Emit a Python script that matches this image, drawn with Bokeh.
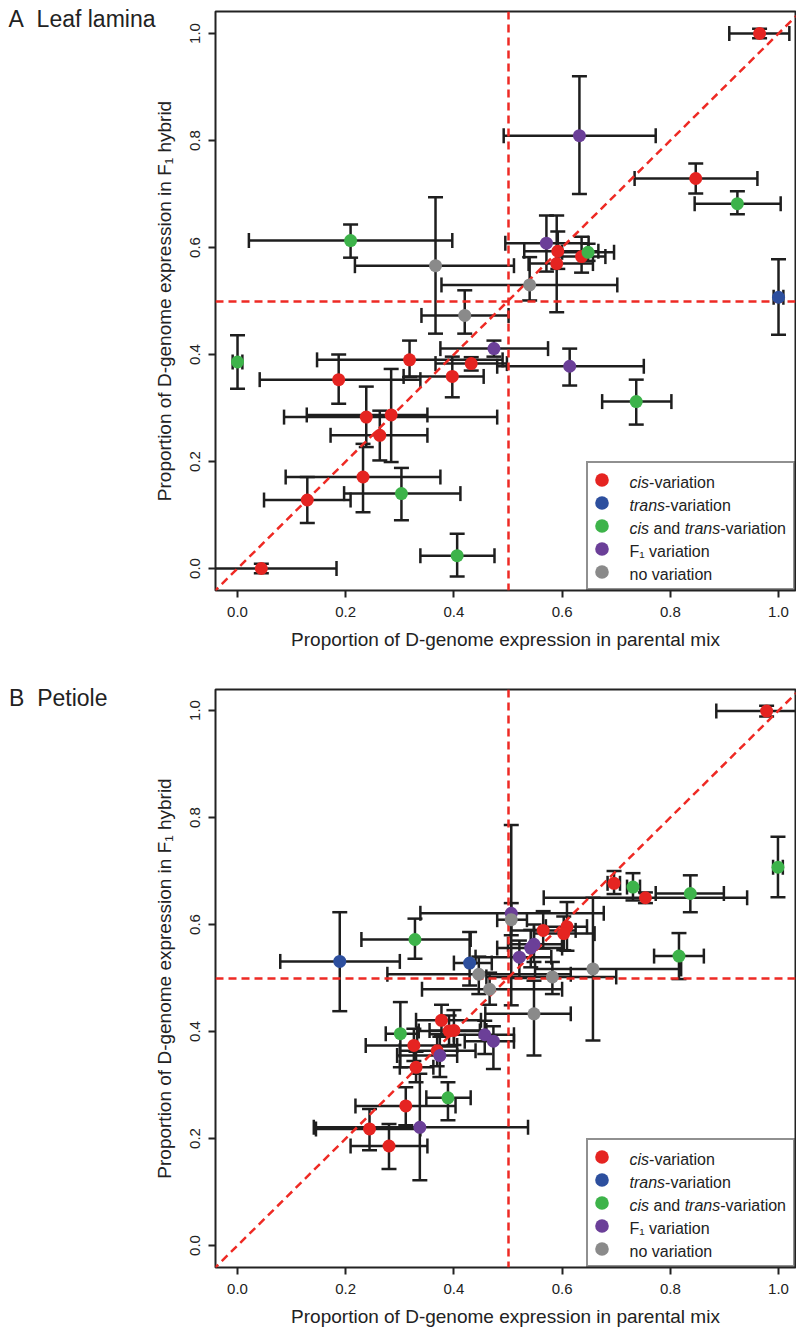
from math import pi
from bokeh.plotting import figure
from bokeh.layouts import column
from bokeh.models import (ColumnDataSource, Range1d, FixedTicker, Legend, LegendItem, Label,
                          LinearAxis)
from bokeh.embed import file_html
from bokeh.resources import INLINE

# ---------------- data ----------------
categories = ["cis", "trans", "cis_trans", "F1", "none"]
cat_colors = ["#e52421", "#2d4f9e", "#3db34a", "#6b3f98", "#8a8a8a"]
legend_parts = [
    [("cis", "italic"), ("-variation", "normal")],
    [("trans", "italic"), ("-variation", "normal")],
    [("cis", "italic"), (" and ", "normal"), ("trans", "italic"), ("-variation", "normal")],
    [("F\u2081 variation", "normal")],
    [("no variation", "normal")],
]
tick_values = [0.0, 0.2, 0.4, 0.6, 0.8, 1.0]
tick_labels = ["0.0", "0.2", "0.4", "0.6", "0.8", "1.0"]
x_title = "Proportion of D-genome expression in parental mix"
y_title = "Proportion of D-genome expression in F\u2081 hybrid"
panel_titles = ["A\u00a0\u00a0Leaf lamina", "B\u00a0\u00a0Petiole"]
ref_value = 0.5
diag = [-0.2, 1.2]

# Panel A (leaf lamina)
a_cat = ["cis"] * 15 + ["trans"] + ["cis_trans"] * 7 + ["F1"] * 4 + ["none"] * 3
a_x = [0.965, 0.847, 0.592, 0.590, 0.636, 0.318, 0.432, 0.397, 0.187, 0.284, 0.238, 0.263, 0.232, 0.129, 0.044,
       1.000,
       0.924, 0.209, 0.648, 0.000, 0.737, 0.303, 0.406,
       0.632, 0.571, 0.474, 0.614,
       0.366, 0.540, 0.420]
a_y = [1.000, 0.729, 0.593, 0.570, 0.583, 0.390, 0.383, 0.359, 0.353, 0.287, 0.283, 0.249, 0.171, 0.128, 0.000,
       0.507,
       0.682, 0.613, 0.591, 0.386, 0.312, 0.140, 0.024,
       0.809, 0.608, 0.411, 0.378,
       0.566, 0.530, 0.473]
a_xlo = [0.909, 0.734, 0.530, 0.538, 0.590, 0.147, 0.366, 0.307, 0.041, 0.128, 0.086, 0.172, 0.089, 0.049, -0.095,
         0.991,
         0.845, 0.021, 0.600, -0.009, 0.674, 0.197, 0.338,
         0.492, 0.495, 0.375, 0.480,
         0.217, 0.377, 0.340]
a_xhi = [1.020, 0.961, 0.667, 0.657, 0.680, 0.490, 0.498, 0.455, 0.338, 0.351, 0.480, 0.351, 0.375, 0.209, 0.183,
         1.009,
         1.004, 0.397, 0.696, 0.009, 0.802, 0.412, 0.475,
         0.773, 0.649, 0.574, 0.751,
         0.511, 0.702, 0.501]
a_ylo = [0.991, 0.701, 0.560, 0.479, 0.553, 0.358, 0.370, 0.320, 0.308, 0.199, 0.227, 0.202, 0.105, 0.085, -0.009,
         0.437,
         0.662, 0.581, 0.575, 0.336, 0.269, 0.090, -0.015,
         0.700, 0.555, 0.396, 0.342,
         0.439, 0.501, 0.439]
a_yhi = [1.009, 0.757, 0.630, 0.660, 0.620, 0.426, 0.395, 0.396, 0.400, 0.373, 0.340, 0.295, 0.233, 0.171, 0.009,
         0.578,
         0.705, 0.643, 0.607, 0.436, 0.353, 0.188, 0.065,
         0.920, 0.660, 0.426, 0.411,
         0.694, 0.582, 0.520]

# Panel B (petiole)
b_cat = ["cis"] * 15 + ["trans"] * 2 + ["cis_trans"] * 7 + ["F1"] * 8 + ["none"] * 6
b_x = [0.978, 0.696, 0.754, 0.565, 0.609, 0.603, 0.377, 0.391, 0.400, 0.326, 0.369, 0.330, 0.311, 0.244, 0.280,
       0.189, 0.429,
       0.999, 0.731, 0.837, 0.816, 0.328, 0.301, 0.389,
       0.506, 0.548, 0.542, 0.521, 0.457, 0.473, 0.374, 0.337,
       0.506, 0.446, 0.466, 0.582, 0.657, 0.548]
b_y = [0.999, 0.677, 0.650, 0.589, 0.596, 0.583, 0.421, 0.401, 0.402, 0.374, 0.364, 0.333, 0.261, 0.218, 0.186,
       0.531, 0.528,
       0.707, 0.670, 0.658, 0.541, 0.572, 0.396, 0.276,
       0.621, 0.563, 0.556, 0.539, 0.394, 0.382, 0.355, 0.221,
       0.609, 0.507, 0.479, 0.502, 0.517, 0.433]
b_xlo = [0.885, 0.684, 0.566, 0.505, 0.570, 0.548, 0.330, 0.335, 0.355, 0.237, 0.300, 0.300, 0.218, 0.145, 0.209,
         0.079, 0.400,
         0.990, 0.720, 0.773, 0.770, 0.229, 0.274, 0.349,
         0.338, 0.500, 0.480, 0.440, 0.400, 0.420, 0.295, 0.141,
         0.480, 0.277, 0.341, 0.460, 0.550, 0.458]
b_xhi = [1.070, 0.707, 0.942, 0.625, 0.646, 0.660, 0.450, 0.448, 0.460, 0.406, 0.440, 0.362, 0.403, 0.338, 0.351,
         0.300, 0.470,
         1.008, 0.744, 0.899, 0.862, 0.431, 0.332, 0.431,
         0.677, 0.600, 0.600, 0.580, 0.511, 0.511, 0.406, 0.537,
         0.535, 0.616, 0.600, 0.700, 0.820, 0.616]
b_ylo = [0.989, 0.657, 0.640, 0.555, 0.551, 0.552, 0.392, 0.372, 0.375, 0.345, 0.335, 0.305, 0.225, 0.178, 0.143,
         0.438, 0.486,
         0.651, 0.645, 0.623, 0.498, 0.536, 0.333, 0.234,
         0.449, 0.530, 0.520, 0.500, 0.358, 0.330, 0.315, 0.122,
         0.580, 0.470, 0.450, 0.470, 0.383, 0.355]
b_yhi = [1.009, 0.700, 0.660, 0.625, 0.642, 0.615, 0.450, 0.430, 0.440, 0.405, 0.395, 0.362, 0.296, 0.255, 0.227,
         0.623, 0.586,
         0.764, 0.696, 0.692, 0.584, 0.611, 0.455, 0.305,
         0.786, 0.600, 0.590, 0.570, 0.420, 0.410, 0.390, 0.321,
         0.640, 0.540, 0.510, 0.530, 0.650, 0.495]

# ---------------- style ----------------
FONT = "Liberation Sans"
INK = "#222222"
DASH_RED = "#ee2a24"
BAR = "#1e1e1e"
LEG_FS = 16
# Arial advance widths (1/1000 em) for the legend spans
ADV = {"c": 500, "i": 222, "s": 500, "t": 278, "r": 333, "a": 556, "n": 556, "d": 556, " ": 278}


def span_width(txt, fs):
    return sum(ADV.get(ch, 556) for ch in txt) * fs / 1000.0


def make_panel(title, title_standoff, cat, xs, ys, xlo, xhi, ylo, yhi,
               border_top, frame_h, border_bottom, y_start, y_end, title_y):
    p = figure(frame_width=580, frame_height=frame_h,
               x_range=Range1d(-0.0407, 1.0314), y_range=Range1d(y_start, y_end),
               output_backend="svg", toolbar_location=None,
               min_border_left=215, min_border_right=1,
               min_border_top=border_top, min_border_bottom=border_bottom)
    p.background_fill_color = "white"
    p.border_fill_color = "white"
    p.outline_line_color = INK
    p.outline_line_width = 2
    p.xgrid.visible = False
    p.ygrid.visible = False

    for ax in (p.xaxis[0], p.yaxis[0]):
        ax.ticker = FixedTicker(ticks=tick_values)
        ax.major_label_overrides = dict(zip(tick_values, tick_labels))
        ax.minor_tick_line_color = None
        ax.major_tick_in = 0
        ax.major_tick_out = 7
        ax.major_tick_line_width = 2
        ax.major_tick_line_color = INK
        ax.axis_line_color = None
        ax.major_label_text_font = FONT
        ax.major_label_text_font_size = "15px"
        ax.major_label_text_color = INK
        ax.axis_label_text_font = FONT
        ax.axis_label_text_font_size = "19px"
        ax.axis_label_text_font_style = "normal"
        ax.axis_label_text_color = INK
    p.xaxis.axis_label = x_title
    p.yaxis.axis_label = y_title
    p.xaxis.major_label_standoff = 9
    p.yaxis.major_label_standoff = 8
    p.xaxis.axis_label_standoff = 9
    p.yaxis.axis_label_standoff = 13
    p.yaxis.major_label_orientation = "vertical"

    # panel title drawn as the single tick label of an outer, bare left axis
    tax = LinearAxis(ticker=FixedTicker(ticks=[title_y]),
                     major_label_overrides={title_y: title},
                     axis_line_color=None, major_tick_line_color=None,
                     minor_tick_line_color=None, major_tick_in=0, major_tick_out=0,
                     major_label_standoff=title_standoff, major_label_text_font=FONT,
                     major_label_text_font_size="23px", major_label_text_color=INK)
    p.add_layout(tax, "left")

    src = ColumnDataSource(dict(x=xs, y=ys, xlo=xlo, xhi=xhi, ylo=ylo, yhi=yhi))
    # error bars
    p.segment(x0="xlo", y0="y", x1="xhi", y1="y", source=src, line_color=BAR, line_width=2.5)
    p.segment(x0="x", y0="ylo", x1="x", y1="yhi", source=src, line_color=BAR, line_width=2.5)
    for col in ("xlo", "xhi"):
        p.scatter(x=col, y="y", source=src, marker="dash", angle=pi / 2, size=15,
                  line_color=BAR, line_width=2.5)
    for col in ("ylo", "yhi"):
        p.scatter(x="x", y=col, source=src, marker="dash", size=15,
                  line_color=BAR, line_width=2.5)

    # reference lines
    p.vspan(x=[ref_value], line_color=DASH_RED, line_width=2.5, line_dash="8 5")
    p.hspan(y=[ref_value], line_color=DASH_RED, line_width=2.5, line_dash="8 5")
    p.line(diag, diag, line_color=DASH_RED, line_width=2.5, line_dash="8 5")

    # points by category
    items = []
    for c, colr in zip(categories, cat_colors):
        idx = [i for i, k in enumerate(cat) if k == c]
        s = ColumnDataSource(dict(x=[xs[i] for i in idx], y=[ys[i] for i in idx]))
        r = p.ellipse("x", "y", source=s, width=13, height=13,
                      width_units="screen", height_units="screen",
                      fill_color=colr, line_color=None)
        items.append(LegendItem(label=" ", renderers=[r]))

    leg = Legend(items=items, location="bottom_right", margin=0, padding=5, spacing=0,
                 glyph_width=17, glyph_height=23, label_height=23, label_standoff=17,
                 label_width=161, border_line_color=INK, border_line_width=2,
                 background_fill_alpha=0.0, label_text_font_size="1px")
    p.add_layout(leg)

    # legend texts with mixed styles
    leg_h = 2 * 5 + 5 * 23
    for i, parts in enumerate(legend_parts):
        ypos = leg_h - 16.5 - 23 * i
        xpos = 414.0
        for txt, style in parts:
            stripped = txt.strip()
            lead = span_width(txt[:len(txt) - len(txt.lstrip())], LEG_FS)
            p.add_layout(Label(x=xpos + lead, y=ypos, x_units="screen", y_units="screen",
                               text=stripped, text_font=FONT, text_font_size=f"{LEG_FS}px",
                               text_font_style=style, text_color=INK, text_baseline="middle"))
            xpos += span_width(txt, LEG_FS)
    return p


pA = make_panel(panel_titles[0], -5, a_cat, a_x, a_y, a_xlo, a_xhi, a_ylo, a_yhi,
                11, 579, 69, -0.0411, 1.0411, 1.027)
pB = make_panel(panel_titles[1], 43, b_cat, b_x, b_y, b_xlo, b_xhi, b_ylo, b_yhi,
                30, 578, 64, -0.0411, 1.0393, 1.024)

layout = column(pA, pB, spacing=0)
open("out.html", "w").write(file_html(layout, INLINE))
